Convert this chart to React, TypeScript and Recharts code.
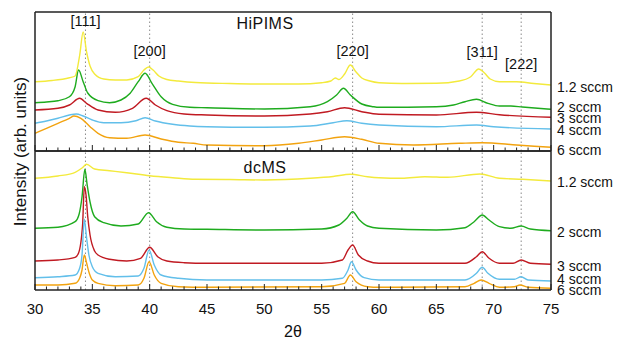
import React from "react";
import {
  LineChart,
  Line,
  XAxis,
  YAxis,
  ReferenceLine,
} from "recharts";

// 2θ positions of the reflections and their labels
const PEAKS = [34.4, 40.0, 57.7, 69.0, 72.4];
const PEAK_NAMES = ["[111]", "[200]", "[220]", "[311]", "[222]"];

const TICKS = [
  30, 31, 32, 33, 34, 35, 36, 37, 38, 39, 40, 41, 42, 43, 44, 45, 46, 47, 48,
  49, 50, 51, 52, 53, 54, 55, 56, 57, 58, 59, 60, 61, 62, 63, 64, 65, 66, 67,
  68, 69, 70, 71, 72, 73, 74, 75,
];

const FLOWS = ["1.2 sccm", "2 sccm", "3 sccm", "4 sccm", "6 sccm"];
// where the flow names sit on the intensity scale of each panel
const HIPIMS_LABEL_LEVELS = [64.3, 44.3, 32.7, 21, 1];
const DCMS_LABEL_LEVELS = [108.3, 58.3, 24.3, 10.7, 0];

// HiPIMS scans [2θ, intensity (arb.)]
const hipims12 = [
  [30, 69.3], [31.5, 70.5], [33, 73.3], [33.5, 75], [33.9, 96], [34.2, 119],
  [34.5, 99], [34.8, 85], [35.2, 77], [36, 72], [37, 71], [38, 71], [39, 74.3],
  [39.5, 81], [39.9, 84], [40.3, 81], [40.8, 75], [41.5, 71.5], [42.5, 70],
  [44, 68.5], [47, 67.5], [50, 67], [53, 67], [55, 68.3], [55.8, 70], [56.2, 73],
  [56.5, 71.5], [57, 77], [57.5, 86], [58, 79], [58.5, 73], [59.2, 70],
  [60, 68.3], [62, 67.5], [65, 67.7], [67, 70], [68, 74.3], [68.7, 82],
  [69.2, 78], [69.7, 72], [70.5, 69.3], [72, 69.3], [73.5, 67.5], [75, 66],
];
const hipims2 = [
  [30, 48.3], [31, 49], [32, 50.3], [33, 54.3], [33.5, 64.3], [33.8, 81],
  [34.2, 69.3], [34.6, 58], [35.5, 50.3], [36.5, 48.3], [37.5, 51], [38.3, 57.7],
  [39, 69.3], [39.6, 77.7], [40.2, 67.7], [41, 54.3], [42, 46.7], [43.5, 43.7],
  [45, 43.3], [50, 42], [54, 44.3], [55.5, 49.3], [56.3, 56], [56.9, 62.7],
  [57.5, 56], [58.5, 47], [59.5, 44.3], [60, 43.7], [65, 44.3], [66.5, 46],
  [67.5, 49.3], [68.5, 51.7], [69.5, 47.7], [70.5, 45], [71.5, 45], [72.5, 44],
  [75, 41.7],
];
const hipims3 = [
  [30, 41], [32, 42.7], [33, 46], [33.9, 52.7], [34.5, 47.7], [35.5, 41],
  [37, 38.7], [38.5, 42.7], [39.7, 52.7], [40.5, 46], [41.5, 40.3], [43, 37],
  [45, 36], [50, 35], [54, 37], [55.5, 39.3], [57, 43.3], [58.5, 39.3],
  [60, 36.7], [65, 36], [68.5, 38.7], [70.5, 36.3], [75, 33.7],
];
const hipims4 = [
  [30, 27.7], [31, 30], [32, 32.7], [33, 36], [33.6, 37], [34.2, 35], [35, 31],
  [36, 28.3], [37.5, 28.3], [38.8, 30.3], [39.6, 33.3], [40.5, 30], [42, 26.7],
  [43.5, 25], [45, 24.3], [50, 23.7], [54, 25], [56, 28.3], [57.2, 30.3],
  [58.5, 27.7], [60, 26], [65, 24.3], [68.5, 26], [70, 24.3], [75, 22],
];
const hipims6 = [
  [30, 17.7], [31, 22.7], [32, 27.7], [33, 32.7], [33.4, 35], [34, 32.7],
  [34.8, 24.3], [35.5, 17.7], [36.5, 13.3], [38, 12.7], [39.6, 16], [41, 12],
  [42.5, 8.7], [43.8, 7.7], [45, 6], [50, 5.3], [53, 7.7], [55, 11], [57, 14.3],
  [58.5, 11.7], [60, 7.7], [63, 6], [67, 7.7], [69, 8.3], [72, 6], [75, 3.7],
];

// dcMS scans [2θ, intensity (arb.)]
const dcms12 = [
  [30, 111.7], [32, 114], [33.5, 117.7], [34.1, 122], [34.5, 125.7], [35.2, 121],
  [36.5, 119.3], [38, 117.3], [40, 114.3], [42, 112.3], [44, 110.7], [47, 110.5],
  [50, 110], [54, 111.7], [56, 113.5], [57.5, 115.7], [59, 113.3], [60, 112.3],
  [62, 111.7], [64, 113.3], [66, 112.7], [68.8, 116], [70.5, 111.7], [72.5, 110.7],
  [75, 109],
];
const dcms2 = [
  [30, 61.7], [32, 62.7], [33.5, 68.3], [33.85, 76], [34.1, 93], [34.35, 120.7],
  [34.55, 105], [34.8, 88], [35.2, 73.3], [36, 67.3], [37.5, 64], [39, 66],
  [39.9, 77.3], [40.6, 68.3], [41.5, 62.7], [43, 61], [45, 60.7], [50, 60],
  [55, 61], [56.5, 65], [57.2, 71.7], [57.7, 78.3], [58.3, 70], [59, 64],
  [60, 61.7], [65, 60], [67.5, 62.3], [68.3, 68.3], [69, 75], [69.6, 70],
  [70.5, 63.3], [71.5, 61.7], [72.4, 64], [73.2, 61], [75, 59.3],
];
const dcms3 = [
  [30, 29], [32, 30], [33.5, 32.7], [33.8, 37], [34.15, 65], [34.3, 103.3],
  [34.45, 95], [34.6, 73.3], [34.8, 55], [35.2, 39], [35.5, 35], [36.5, 30.7],
  [38, 29], [39.2, 31.7], [40, 42.7], [40.7, 33.3], [41.5, 29], [43, 27.3],
  [45, 26.7], [55, 26.7], [56.8, 30], [57.3, 40], [57.7, 45], [58.2, 35],
  [59, 29], [60, 26.7], [67.5, 26.7], [68.5, 33.3], [69, 38.3], [69.6, 31.7],
  [70.5, 26.7], [71.7, 26.7], [72.4, 30], [73.2, 26.7], [75, 25.7],
];
const dcms4 = [
  [30, 12.3], [32, 13.3], [33.5, 15], [33.9, 22], [34.1, 35], [34.3, 70.7],
  [34.5, 52], [34.7, 35], [35, 23.3], [35.5, 16.7], [37, 13.3], [39, 14],
  [39.5, 21.7], [39.95, 40], [40.4, 25], [41, 15], [42.5, 11.7], [45, 10],
  [55, 10], [56.8, 11.7], [57.3, 20], [57.6, 28.3], [58, 20], [58.7, 12.3],
  [60, 10], [67.5, 10], [68.5, 16.7], [69, 22.7], [69.5, 16.7], [70.5, 10.7],
  [71.8, 10.7], [72.4, 13.3], [73, 10], [75, 9],
];
const dcms6 = [
  [30, 5], [32, 5], [33.5, 6.7], [33.9, 12], [34.1, 20], [34.3, 35], [34.5, 27],
  [34.7, 18], [35, 10], [35.5, 6.7], [37, 4.3], [39, 5], [39.5, 11.7],
  [39.95, 28.3], [40.4, 15], [41, 6.7], [42.5, 3.3], [45, 2.7], [55, 3.3],
  [57, 6.7], [57.5, 15], [58, 8.3], [59, 3.3], [60, 2.7], [67.5, 3.3],
  [68.3, 6.7], [68.9, 10], [69.6, 6.7], [70.5, 2.7], [71.8, 3.3], [72.3, 5],
  [73, 2.7], [75, 1.7],
];

const COLORS = ["#f3ea3c", "#1eab1e", "#c01a22", "#62bfea", "#f2a30f"];
const FONT = '"Liberation Sans", Arial, Helvetica, sans-serif';
const FRAME = "#222";
const PEAK_LABEL_Y = [21, 51, 51, 52, 64];

const rows = (pts: number[][]) => pts.map(([t, v]) => ({ t, v }));

function Tick({ x, y, payload, dir, labels }: any) {
  const major = payload.value % 5 === 0;
  const len = major ? 6 : 3.5;
  return (
    <g>
      <line x1={x} x2={x} y1={y} y2={y + dir * len} stroke={FRAME} strokeWidth={1} />
      {labels && major && (
        <text x={x} y={y + 18.5} textAnchor="middle" dominantBaseline="central"
          fontSize={15} fontFamily={FONT} fill="#111">
          {payload.value}
        </text>
      )}
    </g>
  );
}

function FlowTick({ x, y, payload, levels }: any) {
  // pick the flow whose label level is closest to this tick
  let best = 0;
  levels.forEach((l: number, i: number) => {
    if (Math.abs(l - Number(payload.value)) < Math.abs(levels[best] - Number(payload.value))) best = i;
  });
  return (
    <text x={x + 6} y={y} dominantBaseline="central" fontSize={14}
      fontFamily={FONT} fill="#111">
      {FLOWS[best]}
    </text>
  );
}

function Panel({ series, levels, title, titleY, height, margin, showPeakNames, bottomLabels }: any) {
  return (
    <LineChart width={617} height={height} margin={margin}>
      <XAxis xAxisId="b" dataKey="t" type="number" domain={[30, 75]} ticks={TICKS}
        interval={0} height={1} tickSize={0} tickMargin={0} tickLine={false}
        axisLine={{ stroke: FRAME, strokeWidth: 1.5 }}
        tick={<Tick dir={-1} labels={bottomLabels} />}
        label={bottomLabels ? {
          value: "2θ", position: "bottom", offset: 35, fontSize: 16,
          fontFamily: FONT, fill: "#111",
        } : undefined}
      />
      <XAxis xAxisId="t" orientation="top" type="number" domain={[30, 75]} ticks={TICKS}
        interval={0} height={1} tickSize={0} tickMargin={0} tickLine={false}
        axisLine={{ stroke: FRAME, strokeWidth: 1.5 }}
        tick={<Tick dir={1} labels={false} />}
      />
      <YAxis yAxisId="l" domain={[0, 139]} width={1} tick={false} tickLine={false}
        axisLine={{ stroke: FRAME, strokeWidth: 1.5 }}
        label={bottomLabels ? {
          content: () => (
            <text transform="translate(20,151.5) rotate(-90)" textAnchor="middle"
              dominantBaseline="central" fontSize={17} fontFamily={FONT} fill="#111">
              Intensity (arb. units)
            </text>
          ),
        } : undefined}
      />
      <YAxis yAxisId="r" orientation="right" type="number" domain={[0, 139]} width={1}
        ticks={levels} interval={0} tickSize={0} tickMargin={0} tickLine={false}
        allowDataOverflow
        axisLine={{ stroke: FRAME, strokeWidth: 1.5 }}
        tick={<FlowTick levels={levels} />}
      />
      {PEAKS.map((p, i) => (
        <ReferenceLine key={p} x={p} xAxisId="b" yAxisId="l" stroke="#8a8a8a"
          strokeWidth={1} strokeDasharray="1.5 2.5"
          label={showPeakNames ? {
            content: ({ viewBox }: any) => (
              <text x={viewBox.x} y={PEAK_LABEL_Y[i]} textAnchor="middle"
                dominantBaseline="central" fontSize={14.5} fontFamily={FONT} fill="#111">
                {PEAK_NAMES[i]}
              </text>
            ),
          } : undefined}
        />
      ))}
      {series.map((s: number[][], i: number) => (
        <Line key={i} data={rows(s)} xAxisId="b" yAxisId="l" dataKey="v"
          type="monotone" stroke={COLORS[i]} strokeWidth={1.4} dot={false}
          isAnimationActive={false} />
      ))}
      <text x={265} y={titleY} textAnchor="middle" dominantBaseline="central"
        fontSize={16} fontFamily={FONT} fill="#111" letterSpacing={0.5}>
        {title}
      </text>
    </LineChart>
  );
}

export default function App() {
  return (
    <div style={{ position: "absolute", left: 0, top: 0, width: 617, height: 339, background: "#fff" }}>
      <div style={{ position: "absolute", left: 0, top: 0 }}>
        <Panel series={[hipims12, hipims2, hipims3, hipims4, hipims6]}
          levels={HIPIMS_LABEL_LEVELS} title="HiPIMS" titleY={23} height={170}
          margin={{ top: 11, right: 65, bottom: 18, left: 34 }} showPeakNames bottomLabels={false} />
      </div>
      <div style={{ position: "absolute", left: 0, top: 0 }}>
        <Panel series={[dcms12, dcms2, dcms3, dcms4, dcms6]}
          levels={DCMS_LABEL_LEVELS} title="dcMS" titleY={167} height={339}
          margin={{ top: 150, right: 65, bottom: 48, left: 34 }} showPeakNames={false} bottomLabels />
      </div>
    </div>
  );
}
